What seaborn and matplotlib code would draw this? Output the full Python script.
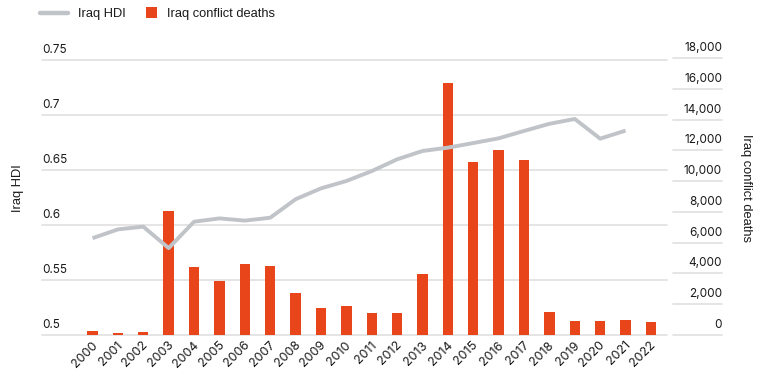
import matplotlib
matplotlib.use("Agg")
import matplotlib.pyplot as plt
import matplotlib.transforms as mtransforms
from matplotlib.lines import Line2D
from matplotlib.patches import Patch, Rectangle
from matplotlib.legend_handler import HandlerPatch
import pandas as pd
import seaborn as sns

# ---- data ----
years = list(range(2000, 2023))
conflictDeaths = [
    280, 110, 190, 8050, 4400, 3510, 4610, 4480, 2730, 1735, 1865, 1410,
    1410, 3960, 16350, 11240, 12000, 11370, 1475, 910, 910, 975, 845
]

hdiYears = list(range(2000, 2022))
hdiValues = [
    0.588, 0.596, 0.5985, 0.579, 0.603, 0.606, 0.604, 0.6066, 0.6234, 0.6333,
    0.640, 0.649, 0.6597, 0.6673, 0.6703, 0.6745, 0.6788, 0.6855, 0.692,
    0.6964, 0.6785, 0.6858
]

hdiTicks = [0.5, 0.55, 0.6, 0.65, 0.7, 0.75]
hdiTickLabels = ["0.5", "0.55", "0.6", "0.65", "0.7", "0.75"]
deathTicks = list(range(0, 18001, 2000))
deathTickLabels = [f"{outTick:,}" for outTick in deathTicks]

hdiLabel = "Iraq HDI"
deathLabel = "Iraq conflict deaths"

# ---- styling ----
barColor = "#E8451A"
lineColor = "#C0C4C9"
gridColor = "#E3E3E3"
textColor = "#1A1A1A"
labelFont = ["Liberation Sans", "DejaVu Sans"]
tickSize = 8.5
labelSize = 9.3


def squareAtRight(legend, orig_handle, xdescent, ydescent, width, height, fontsize) :
    # legend square sits at the right end of its handle box, close to its text
    sideLength = height * 1.15
    return Rectangle(
        (-xdescent + width - sideLength, -ydescent + (height - sideLength) / 2),
        sideLength, sideLength
    )


sns.set_theme(style = "white")
plt.rcParams["font.family"] = ["Inter", "DejaVu Sans"]
plt.rcParams["text.color"] = textColor

deathFrame = pd.DataFrame({"Year" : years, "Deaths" : conflictDeaths})
hdiFrame = pd.DataFrame({"Year" : hdiYears, "HDI" : hdiValues})

fig = plt.figure(figsize = (7.64, 3.76), dpi = 100)
barAxis = fig.add_axes([42 / 764, 1 - 335 / 376, 680 / 764, 277 / 376])
lineAxis = barAxis.twinx()

sns.barplot(
    data = deathFrame, x = "Year", y = "Deaths",
    native_scale = True, width = 0.41, color = barColor, saturation = 1,
    errorbar = None, linewidth = 0, ax = barAxis, zorder = 2
)
sns.lineplot(
    data = hdiFrame, x = "Year", y = "HDI",
    color = lineColor, linewidth = 2.8, solid_capstyle = "butt",
    legend = False, ax = lineAxis
)

barAxis.set_xlim(years[0] - 1.99, years[0] + 24.8)
barAxis.set_ylim(0, 18000)
lineAxis.set_ylim(0.5, 0.5 + 0.25 * 277 / 275)

# gridlines: HDI ones on the left part, deaths ones under the right labels
leftTrans = mtransforms.blended_transform_factory(barAxis.transAxes, lineAxis.transData)
for outTick in hdiTicks :
    barAxis.add_line(Line2D(
        [0, 0.919], [outTick, outTick], transform = leftTrans,
        color = gridColor, linewidth = 1.3, zorder = 0, clip_on = False
    ))
for outTick in deathTicks :
    barAxis.axhline(
        outTick, xmin = 0.928, xmax = 1, color = gridColor,
        linewidth = 1.3, zorder = 0, clip_on = False
    )

for outAxis in (barAxis, lineAxis) :
    for outSpine in outAxis.spines.values() :
        outSpine.set_visible(False)

barAxis.yaxis.tick_right()
barAxis.yaxis.set_label_position("right")
lineAxis.yaxis.tick_left()
lineAxis.yaxis.set_label_position("left")

upShift = mtransforms.ScaledTranslation(0, 4 / 100, fig.dpi_scale_trans)
rightShift = mtransforms.ScaledTranslation(3 / 100, 0, fig.dpi_scale_trans)

lineAxis.set_yticks(hdiTicks, hdiTickLabels)
lineAxis.tick_params(axis = "y", length = 0, pad = 0, labelsize = tickSize, labelcolor = textColor)
for outLabel in lineAxis.get_yticklabels() :
    outLabel.set_horizontalalignment("left")
    outLabel.set_verticalalignment("bottom")
    outLabel.set_transform(outLabel.get_transform() + upShift)

barAxis.set_yticks(deathTicks, deathTickLabels)
barAxis.tick_params(axis = "y", length = 0, pad = 0, labelsize = tickSize, labelcolor = textColor)
for outLabel in barAxis.get_yticklabels() :
    outLabel.set_horizontalalignment("right")
    outLabel.set_verticalalignment("bottom")
    outLabel.set_transform(outLabel.get_transform() + upShift)

barAxis.set_xticks(years, [str(outYear) for outYear in years])
barAxis.tick_params(axis = "x", length = 0, pad = 6, labelsize = 9, labelcolor = textColor)
for outLabel in barAxis.get_xticklabels() :
    outLabel.set_rotation(45)
    outLabel.set_rotation_mode("anchor")
    outLabel.set_horizontalalignment("right")
    outLabel.set_verticalalignment("center")
    outLabel.set_transform(outLabel.get_transform() + rightShift)
barAxis.set_xlabel("")

lineAxis.set_ylabel(hdiLabel, fontsize = labelSize, family = labelFont, color = textColor)
lineAxis.yaxis.set_label_coords(-0.027, 0.531)
barAxis.set_ylabel(
    deathLabel, fontsize = labelSize, family = labelFont, color = textColor,
    rotation = 270, va = "bottom"
)
barAxis.yaxis.set_label_coords(1.027, 0.531)

# legend at the top
hdiHandle = Line2D([0], [0], color = lineColor, linewidth = 3.2)
deathHandle = Patch(facecolor = barColor, edgecolor = "none")
fig.legend(
    handles = [hdiHandle, deathHandle], labels = [hdiLabel, deathLabel],
    loc = "upper left", bbox_to_anchor = (40 / 764, 1 - 8 / 376), ncol = 2,
    frameon = False, borderpad = 0, borderaxespad = 0,
    handlelength = 2.2, handleheight = 0.7, handletextpad = 0.78,
    columnspacing = 0.15, prop = {"family" : labelFont, "size" : labelSize},
    handler_map = {Patch : HandlerPatch(patch_func = squareAtRight)}
)

fig.savefig("out.png", dpi = 100)
